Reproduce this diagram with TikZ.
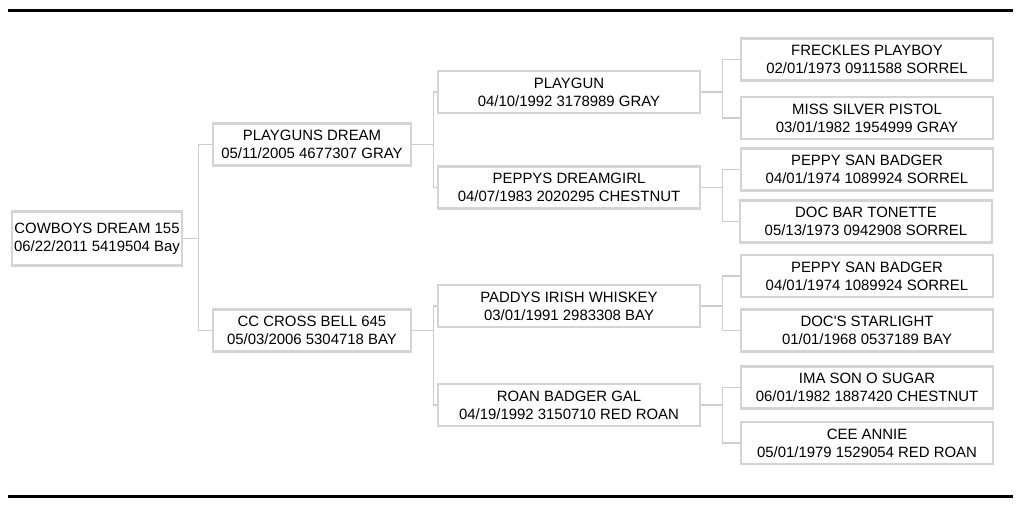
\documentclass[tikz,border=0pt]{standalone}
\usepackage{fontspec}
\setmainfont{Liberation Sans}
\definecolor{boxgray}{RGB}{212,212,212}
\definecolor{linkgray}{RGB}{205,205,205}
\tikzset{
  horse/.style={draw=boxgray, line width=1.4pt, fill=white, align=center,
    inner sep=0pt, minimum height=0.84cm,
    font=\fontsize{8.5}{10.2}\selectfont},
  sire/.style={horse, minimum width=3.96cm},
  grand/.style={horse, minimum width=5.24cm},
  great/.style={horse, minimum width=5.04cm},
  link/.style={draw=linkgray, line width=0.6pt},
  rule/.style={line width=1.7pt}
}
\begin{document}
\begin{tikzpicture}[x=0.02cm,y=-0.02cm]
  \useasboundingbox (0,0) rectangle (1024,512);
  \draw[rule] (8,10.5) -- (1013,10.5);
  \draw[rule] (8,496.5) -- (1013,496.5);
  % foal
  \node[horse, minimum width=3.4cm, minimum height=1.08cm] (root) at (97,238.5)
    {COWBOYS DREAM 155\\06/22/2011 5419504 Bay};
  % sire and dam
  \node[sire] (pd) at (312,144.5) {PLAYGUNS DREAM\\05/11/2005 4677307 GRAY};
  \node[sire] (cc) at (312,330.5) {CC CROSS BELL 645\\05/03/2006 5304718 BAY};
  % grandparents
  \node[grand] (pg)  at (569,92)    {PLAYGUN\\04/10/1992 3178989 GRAY};
  \node[grand] (pdg) at (569,187.5) {PEPPYS DREAMGIRL\\04/07/1983 2020295 CHESTNUT};
  \node[grand] (piw) at (569,306)   {PADDYS IRISH WHISKEY\\03/01/1991 2983308 BAY};
  \node[grand] (rbg) at (569,405)   {ROAN BADGER GAL\\04/19/1992 3150710 RED ROAN};
  % great grandparents
  \node[great] (fp)  at (867,59.5)  {FRECKLES PLAYBOY\\02/01/1973 0911588 SORREL};
  \node[great] (msp) at (867,118)   {MISS SILVER PISTOL\\03/01/1982 1954999 GRAY};
  \node[great] (psb) at (867,169.5) {PEPPY SAN BADGER\\04/01/1974 1089924 SORREL};
  \node[great] (dbt) at (866,221.5) {DOC BAR TONETTE\\05/13/1973 0942908 SORREL};
  \node[great] (psc) at (867,276)   {PEPPY SAN BADGER\\04/01/1974 1089924 SORREL};
  \node[great] (dsl) at (867,330.5) {DOC\textquotesingle S STARLIGHT\\01/01/1968 0537189 BAY};
  \node[great] (ima) at (867,387.5) {IMA SON O SUGAR\\06/01/1982 1887420 CHESTNUT};
  \node[great] (cee) at (867,443)   {CEE ANNIE\\05/01/1979 1529054 RED ROAN};

  \draw[link] (root.east) -- ++(15,0) |- (pd.west);
  \draw[link] (root.east) -- ++(15,0) |- (cc.west);
  \draw[link] (pd.east) -- ++(21,0) |- (pg.west);
  \draw[link] (pd.east) -- ++(21,0) |- (pdg.west);
  \draw[link] (cc.east) -- ++(21,0) |- (piw.west);
  \draw[link] (cc.east) -- ++(21,0) |- (rbg.west);
  \draw[link] (pg.east) -- ++(21,0) |- (fp.west);
  \draw[link] (pg.east) -- ++(21,0) |- (msp.west);
  \draw[link] (pdg.east) -- ++(21,0) |- (psb.west);
  \draw[link] (pdg.east) -- ++(21,0) |- (dbt.west);
  \draw[link] (piw.east) -- ++(21,0) |- (psc.west);
  \draw[link] (piw.east) -- ++(21,0) |- (dsl.west);
  \draw[link] (rbg.east) -- ++(21,0) |- (ima.west);
  \draw[link] (rbg.east) -- ++(21,0) |- (cee.west);
\end{tikzpicture}
\end{document}
